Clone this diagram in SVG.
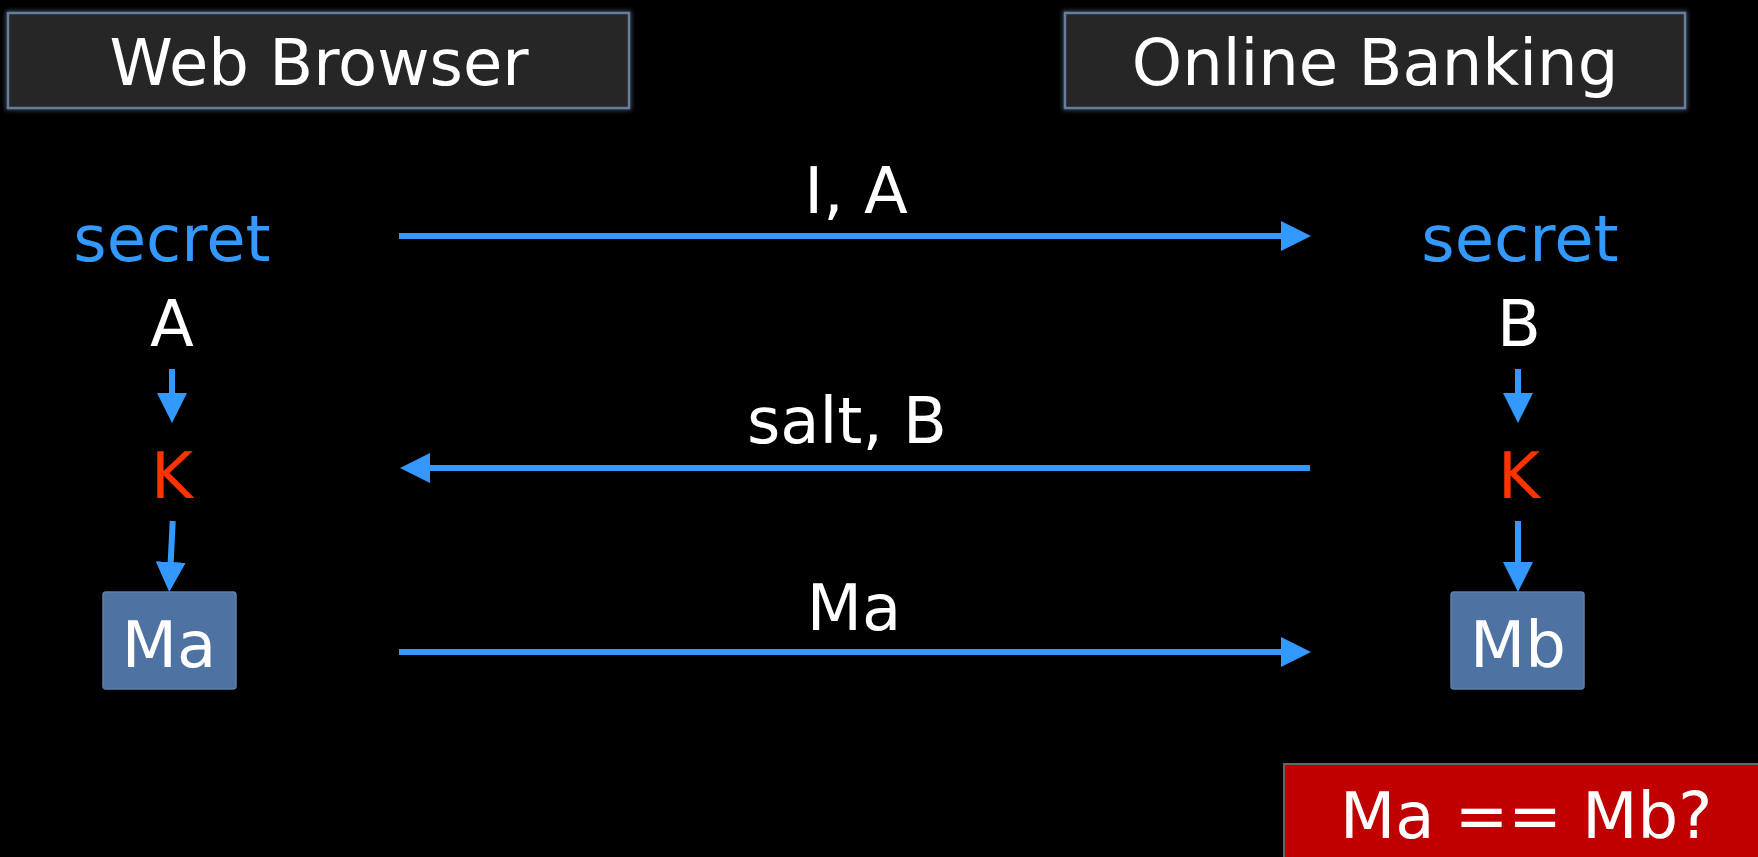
<svg xmlns="http://www.w3.org/2000/svg" width="1758" height="857" viewBox="0 0 1758 857">
  <defs>
    <style>
      text { font-family: "DejaVu Sans", Verdana, "Liberation Sans", sans-serif; font-size: 64px; text-anchor: middle; }
      .white { fill: #ffffff; }
      .blue { fill: #3399ff; }
      .red { fill: #ff3300; }
      .header { fill: #262626; stroke: #667e9c; stroke-width: 2.5; }
      .glow { fill: none; stroke: #5c7494; stroke-width: 5; opacity: 0.6; }
      .mbox { fill: #4e73a2; stroke: #5d7fab; stroke-width: 1.5; }
      .check { fill: #c00000; stroke: #5f6670; stroke-width: 2; }
      .conn { stroke: #3399ff; stroke-width: 6; fill: none; marker-end: url(#head); }
    </style>
    <filter id="soft" x="-5%" y="-20%" width="110%" height="140%">
      <feGaussianBlur stdDeviation="2"/>
    </filter>
    <marker id="head" viewBox="0 0 30 30" refX="2" refY="15" markerWidth="30" markerHeight="30" markerUnits="userSpaceOnUse" orient="auto">
      <path d="M0,0 L30,15 L0,30 Z" fill="#3399ff"/>
    </marker>
  </defs>

  <rect x="0" y="0" width="1758" height="857" fill="#000000"/>

  <!-- Party headers -->
  <g id="web-browser">
    <rect class="glow" x="8" y="13" width="621" height="95" filter="url(#soft)"/>
    <rect class="header" x="8" y="13" width="621" height="95"/>
    <text class="white" x="319" y="85">Web Browser</text>
  </g>
  <g id="online-banking">
    <rect class="glow" x="1065" y="13" width="620" height="95" filter="url(#soft)"/>
    <rect class="header" x="1065" y="13" width="620" height="95"/>
    <text class="white" x="1375" y="85">Online Banking</text>
  </g>

  <!-- Client side values -->
  <g id="client-secret"><text class="blue" x="172" y="261">secret</text></g>
  <g id="client-A"><text class="white" x="172" y="346">A</text></g>
  <g id="client-K"><text class="red" x="172" y="498">K</text></g>
  <g id="client-Ma">
    <rect class="mbox" x="103" y="592" width="133" height="97" rx="3"/>
    <text class="white" x="169" y="667">Ma</text>
  </g>

  <!-- Server side values -->
  <g id="server-secret"><text class="blue" x="1520" y="261">secret</text></g>
  <g id="server-B"><text class="white" x="1519" y="346">B</text></g>
  <g id="server-K"><text class="red" x="1519" y="498">K</text></g>
  <g id="server-Mb">
    <rect class="mbox" x="1451" y="592" width="133" height="97" rx="3"/>
    <text class="white" x="1518" y="667">Mb</text>
  </g>

  <!-- Verification -->
  <g id="compare">
    <rect class="check" x="1284" y="764" width="490" height="110"/>
    <text class="white" x="1526" y="838">Ma == Mb?</text>
  </g>

  <!-- Connectors -->
  <g id="connectors">
    <line class="conn" x1="399" y1="236" x2="1283" y2="236"/>
    <line class="conn" x1="1310" y1="468" x2="428" y2="468"/>
    <line class="conn" x1="399" y1="652" x2="1283" y2="652"/>
    <line class="conn" x1="172" y1="369" x2="172" y2="395"/>
    <line class="conn" x1="172.7" y1="521" x2="170.6" y2="564"/>
    <line class="conn" x1="1518" y1="369" x2="1518" y2="395"/>
    <line class="conn" x1="1518" y1="521" x2="1518" y2="564"/>
  </g>

  <!-- Message labels -->
  <g id="labels">
    <text class="white" x="856" y="213">I, A</text>
    <text class="white" x="847" y="443">salt, B</text>
    <text class="white" x="854" y="630">Ma</text>
  </g>
</svg>
